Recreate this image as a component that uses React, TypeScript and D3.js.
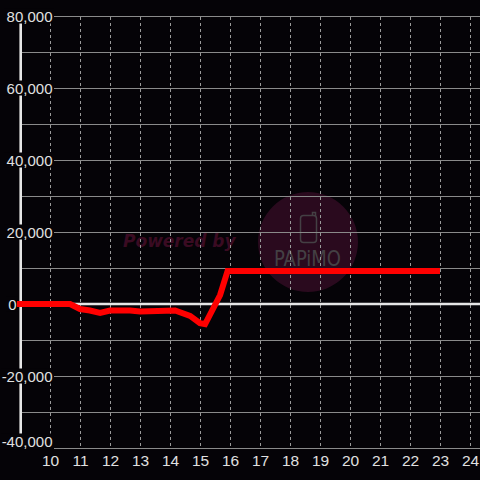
import React from "react";
import * as d3 from "d3";

const hours = [8.9, 10.67, 11.0, 11.33, 11.67, 12.0, 12.67, 13.0, 14.17, 14.67, 15.0, 15.17, 15.67, 15.92, 23.0];
const values = [0, 0, -1400, -1800, -2500, -1800, -1800, -2100, -1800, -3300, -5300, -5600, 2500, 9200, 9200];
const xTicks = [10, 11, 12, 13, 14, 15, 16, 17, 18, 19, 20, 21, 22, 23, 24];
const yTicks = [-40000, -20000, 0, 20000, 40000, 60000, 80000];
const yMinor = [-30000, -10000, 10000, 30000, 50000, 70000];

export default function App() {
  const W = 480, H = 480;
  const x = d3.scaleLinear().domain([9, 9 + 460 / 30]).range([20, 480]);
  const y = d3.scaleLinear().domain([-40000, 80000]).range([448, 16]);
  const fmt = (v: number) => d3.format(",")(v).replace("\u2212", "-");
  const line = d3.line<number>().x((_, i) => x(hours[i])).y((d) => y(d));
  const font = "Liberation Sans, Arial, sans-serif";
  return (
    <svg width={W} height={H} style={{ position: "absolute", left: 0, top: 0, background: "#050307" }}>
      <rect x={0} y={0} width={W} height={H} fill="#050307" />
      {/* watermark */}
      <circle cx={308} cy={242} r={50} fill="#2a0a1e" />
      <text x={123} y={247} fontFamily="DejaVu Sans" fontWeight="bold" fontStyle="italic" fontSize={17} fill="#3a0b22">Powered by</text>
      <rect x={300.5} y={215.5} width={16} height={27} rx={3} fill="none" stroke="#444044" strokeWidth={1.5} />
      <path d="M312.5,215.5 L312.5,212.5 L315.5,212.5 L315.5,216" fill="none" stroke="#444044" strokeWidth={1.5} />
      <text x={274} y={266} fontFamily="DejaVu Sans Condensed, DejaVu Sans" fontSize={22} fill="#444044" textLength={67} lengthAdjust="spacingAndGlyphs">PAPiMO</text>
      {/* horizontal grid */}
      {[...yTicks, ...yMinor].filter((v) => v !== 0).map((v) => (
        <line key={"h" + v} x1={20} x2={480} y1={y(v) + 0.5} y2={y(v) + 0.5} stroke="#8a8a8a" strokeWidth={1} />
      ))}
      {/* vertical dashed grid */}
      {xTicks.map((t) => (
        <line key={"v" + t} x1={Math.round(x(t)) + 0.5} x2={Math.round(x(t)) + 0.5} y1={17} y2={447} stroke="#9a9a9a" strokeWidth={1} strokeDasharray="3,3" />
      ))}
      {/* zero line */}
      <line x1={20} x2={480} y1={y(0)} y2={y(0)} stroke="#e6e6e6" strokeWidth={2.5} />
      {/* y axis */}
      <line x1={20.7} x2={20.7} y1={16} y2={448} stroke="#e6e6e6" strokeWidth={2.6} />
      {/* y labels */}
      {yTicks.map((v) => {
        const cy = v === -40000 ? y(v) - 7 : y(v);
        const right = v === 0 ? 16.5 : 52.5;
        const left = v === 0 ? 6 : v < 0 ? 1 : 4;
        return (
          <g key={"yl" + v}>
            <rect x={left} y={cy - 7.5} width={right - left + 1.5} height={v === -40000 ? 16 : 15} fill="#050307" />
            <text x={right} y={cy + 5.5} textAnchor="end" fontFamily={font} fontSize={15} fill="#e0e0e0">{fmt(v)}</text>
          </g>
        );
      })}
      {/* x labels */}
      {xTicks.map((t) => (
        <text key={"xl" + t} x={x(t) + 0.5} y={465.5} textAnchor="middle" fontFamily={font} fontSize={15.5} fill="#e0e0e0">{t}</text>
      ))}
      {/* data line */}
      <path d={line(values) || ""} fill="none" stroke="#ff0000" strokeWidth={6} strokeLinejoin="miter" strokeLinecap="butt" />
    </svg>
  );
}
